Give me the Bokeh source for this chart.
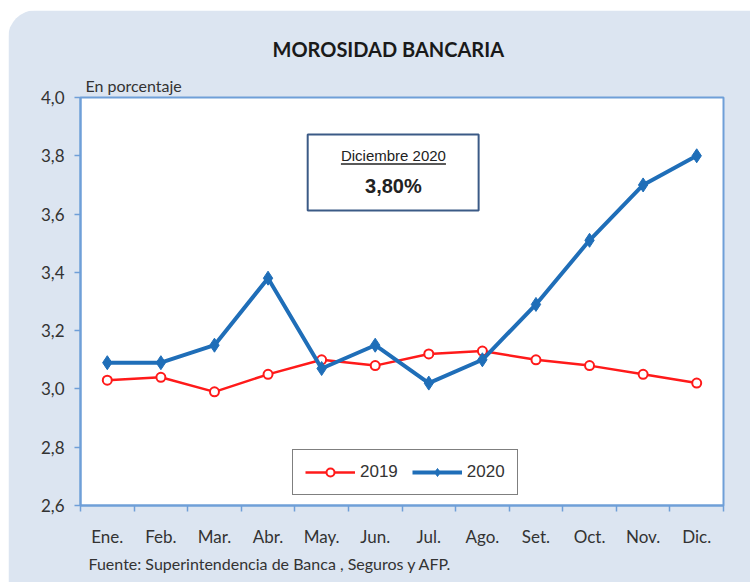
from bokeh.plotting import figure
from bokeh.models import (Range1d, FixedTicker, BoxAnnotation, Label, Title,
                          Legend, LegendItem)
from bokeh.embed import file_html
from bokeh.resources import INLINE

months = ["Ene.", "Feb.", "Mar.", "Abr.", "May.", "Jun.", "Jul.", "Ago.", "Set.", "Oct.", "Nov.", "Dic."]
y2019 = [3.03, 3.04, 2.99, 3.05, 3.10, 3.08, 3.12, 3.13, 3.10, 3.08, 3.05, 3.02]
y2020 = [3.09, 3.09, 3.15, 3.38, 3.07, 3.15, 3.02, 3.10, 3.29, 3.51, 3.70, 3.80]
y_ticks = [2.6, 2.8, 3.0, 3.2, 3.4, 3.6, 3.8, 4.0]
y_tick_labels = ["2,6", "2,8", "3,0", "3,2", "3,4", "3,6", "3,8", "4,0"]

xs = [i + 0.5 for i in range(len(months))]
bounds = list(range(len(months) + 1))

PANEL = "#dce5f1"
FRAME = "#6f9fd8"
RED = "#ff1a1a"
BLUE = "#1f6eb8"
TXT = "#333333"
FONT = "Lato"

p = figure(width=742, height=572, output_backend="svg", toolbar_location=None,
           x_range=Range1d(0, 12), y_range=Range1d(2.6, 4.0), title=None,
           min_border_left=72, min_border_right=27, min_border_top=87, min_border_bottom=77,
           border_fill_color=PANEL, background_fill_color="white",
           outline_line_color=FRAME, outline_line_width=2, outline_line_alpha=1.0)
p.margin = (10, 0, 0, 8)
p.styles = {"border-top-left-radius": "28px", "overflow": "hidden"}
p.grid.visible = False

# y axis
ya = p.yaxis[0]
ya.ticker = FixedTicker(ticks=y_ticks)
ya.major_label_overrides = {t: l for t, l in zip(y_ticks, y_tick_labels)}
ya.axis_line_color = FRAME
ya.axis_line_width = 2
ya.major_tick_line_color = FRAME
ya.major_tick_line_width = 1.5
ya.major_tick_out = 6
ya.major_tick_in = 0
ya.minor_tick_line_color = None
ya.major_label_text_font = FONT
ya.major_label_text_font_size = "17px"
ya.major_label_text_color = TXT
ya.major_label_standoff = 10

# x axis: labels at category centres, tick marks at category boundaries
xa = p.xaxis[0]
xa.ticker = FixedTicker(ticks=xs, minor_ticks=bounds)
xa.major_label_overrides = {x: m for x, m in zip(xs, months)}
xa.axis_line_color = FRAME
xa.axis_line_width = 2
xa.major_tick_line_color = None
xa.minor_tick_line_color = FRAME
xa.minor_tick_line_width = 1.5
xa.minor_tick_out = 6
xa.minor_tick_in = 0
xa.major_label_text_font = FONT
xa.major_label_text_font_size = "17px"
xa.major_label_text_color = TXT
xa.major_label_standoff = 14

# series
l19 = p.line(xs, y2019, line_color=RED, line_width=2.5)
s19 = p.scatter(xs, y2019, marker="circle", size=9, fill_color="white",
                line_color=RED, line_width=2)
l20 = p.line(xs, y2020, line_color=BLUE, line_width=4)
s20 = p.scatter(xs, y2020, marker="diamond", size=14, fill_color=BLUE,
                line_color=BLUE, line_width=1)

legend = Legend(items=[LegendItem(label="2019", renderers=[l19, s19]),
                       LegendItem(label="2020", renderers=[l20, s20])],
                orientation="horizontal", location=(212, 10),
                glyph_width=50, glyph_height=20, spacing=14, padding=12,
                label_text_font="Liberation Sans", label_text_font_size="17px",
                label_text_color=TXT, label_standoff=5,
                border_line_color="#7f7f7f", border_line_width=1.5, border_line_alpha=1.0,
                background_fill_color="white", background_fill_alpha=1.0)
p.add_layout(legend)

# highlight box
box = BoxAnnotation(left=4.24, right=7.43, top=3.873, bottom=3.612,
                    fill_color="white", fill_alpha=1.0, line_color="#3b5a86",
                    line_alpha=1.0, line_width=2, level="underlay")
p.add_layout(box)
p.add_layout(Label(x=5.84, y=3.80, text="Diciembre 2020", text_align="center",
                   text_baseline="middle", text_font="Liberation Sans",
                   text_font_size="15px", text_color="#222222"))
p.segment(x0=[4.86], y0=[3.772], x1=[6.82], y1=[3.772], line_color="#222222", line_width=1.5)
p.add_layout(Label(x=5.84, y=3.695, text="3,80%", text_align="center",
                   text_baseline="middle", text_font="Liberation Sans",
                   text_font_size="20px", text_font_style="bold", text_color="#222222"))

# texts outside the frame
p.add_layout(Title(text="En porcentaje", align="left", offset=5, standoff=5,
                   text_font=FONT, text_font_size="16px", text_font_style="normal",
                   text_color=TXT), "above")
p.add_layout(Title(text="MOROSIDAD BANCARIA", align="left", offset=192, standoff=22,
                   text_font=FONT, text_font_size="20px", text_font_style="bold",
                   text_color="#1a1a1a"), "above")
p.add_layout(Title(text="Fuente: Superintendencia de Banca , Seguros y AFP.", align="left",
                   offset=8, standoff=5, text_font=FONT, text_font_size="16px",
                   text_font_style="normal", text_color=TXT), "below")

open("out.html", "w").write(file_html(p, INLINE))
